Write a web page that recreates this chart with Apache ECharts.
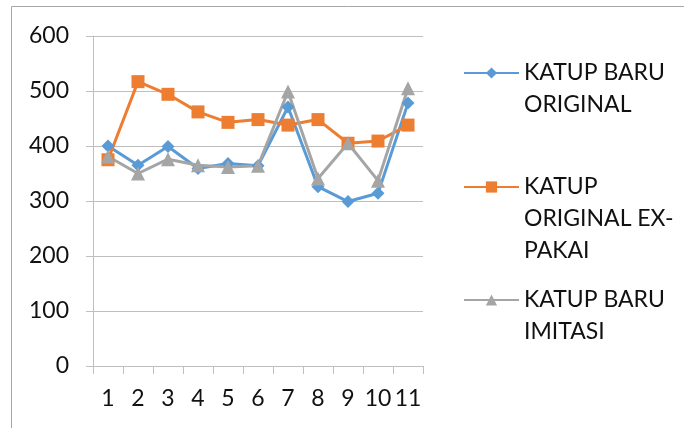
<!DOCTYPE html>
<html>
<head>
<meta charset="utf-8">
<script src="https://cdn.jsdelivr.net/npm/echarts@6/dist/echarts.min.js"></script>
<style>
html,body{margin:0;padding:0;background:#fff;}
#chart{width:684px;height:428px;}
</style>
</head>
<body>
<div id="chart"></div>
<script>
var categories = ['1','2','3','4','5','6','7','8','9','10','11'];
var seriesNames = ['KATUP BARU ORIGINAL', 'KATUP ORIGINAL EX-PAKAI', 'KATUP BARU IMITASI'];
var legendLabels = ['KATUP BARU\nORIGINAL', 'KATUP\nORIGINAL EX-\nPAKAI', 'KATUP BARU\nIMITASI'];
var baruOriginal = [400, 365, 399, 359, 368, 364, 471, 326, 299, 314, 478];
var originalExPakai = [375, 517, 494, 462, 443, 448, 438, 448, 405, 409, 438];
var baruImitasi = [381, 350, 376, 365, 362, 364, 499, 341, 405, 337, 505];
var yTicks = [0, 100, 200, 300, 400, 500, 600];

var FONT = 'Lato';
var colors = ['#5b9bd5', '#ed7d31', '#a5a5a5'];
var symbols = ['diamond', 'rect', 'triangle'];
var symbolSizes = [13, 13, 14];
var dataSets = [baruOriginal, originalExPakai, baruImitasi];
var legendTops = [25, 107, 252];

var chart = echarts.init(document.getElementById('chart'), null, {renderer: 'canvas'});

var series = seriesNames.map(function (n, i) {
  return {
    name: n,
    type: 'line',
    data: dataSets[i],
    symbol: symbols[i],
    symbolSize: symbolSizes[i],
    showAllSymbol: true,
    lineStyle: {color: colors[i], width: 3},
    itemStyle: {color: colors[i]},
    emphasis: {disabled: true},
    animation: false
  };
});

// leading blank lines so the first text line sits level with the legend icon
function padLabel(s) {
  var n = s.split('\n').length - 1;
  var pre = '';
  for (var k = 0; k < n; k++) pre += ' \n';
  return pre + s;
}

var legends = seriesNames.map(function (n, i) {
  return {
    orient: 'vertical',
    left: 463,
    top: legendTops[i],
    padding: 0,
    itemWidth: 55,
    itemHeight: 14,
    itemGap: 0,
    selectedMode: false,
    data: [{name: n}],
    formatter: function () { return padLabel(legendLabels[i]); },
    textStyle: {
      fontFamily: FONT,
      fontSize: 23,
      color: '#111111',
      lineHeight: 32
    }
  };
});

chart.setOption({
  backgroundColor: '#ffffff',
  animation: false,
  color: colors,
  textStyle: {fontFamily: FONT},
  grid: {left: 93, right: 261, top: 36, bottom: 62, containLabel: false},
  legend: legends,
  xAxis: {
    type: 'category',
    data: categories,
    boundaryGap: true,
    axisLine: {show: true, lineStyle: {color: '#bfbfbf', width: 1}},
    axisTick: {show: true, length: 8, alignWithLabel: false, lineStyle: {color: '#bfbfbf'}},
    axisLabel: {fontFamily: FONT, fontSize: 23, color: '#111111', margin: 21, interval: 0},
    splitLine: {show: false}
  },
  yAxis: {
    type: 'value',
    min: yTicks[0],
    max: yTicks[yTicks.length - 1],
    interval: 100,
    axisLine: {show: true, lineStyle: {color: '#bfbfbf', width: 1}},
    axisTick: {show: true, length: 7, lineStyle: {color: '#bfbfbf'}},
    axisLabel: {fontFamily: FONT, fontSize: 23, color: '#111111', margin: 24},
    splitLine: {show: true, lineStyle: {color: '#bfbfbf', width: 1}}
  },
  graphic: [
    {type: 'line', shape: {x1: 11.5, y1: 6.5, x2: 684, y2: 6.5}, style: {stroke: '#a6a6a6', lineWidth: 1}, silent: true},
    {type: 'line', shape: {x1: 11.5, y1: 6.5, x2: 11.5, y2: 428}, style: {stroke: '#a6a6a6', lineWidth: 1}, silent: true}
  ],
  series: series
});
</script>
</body>
</html>
